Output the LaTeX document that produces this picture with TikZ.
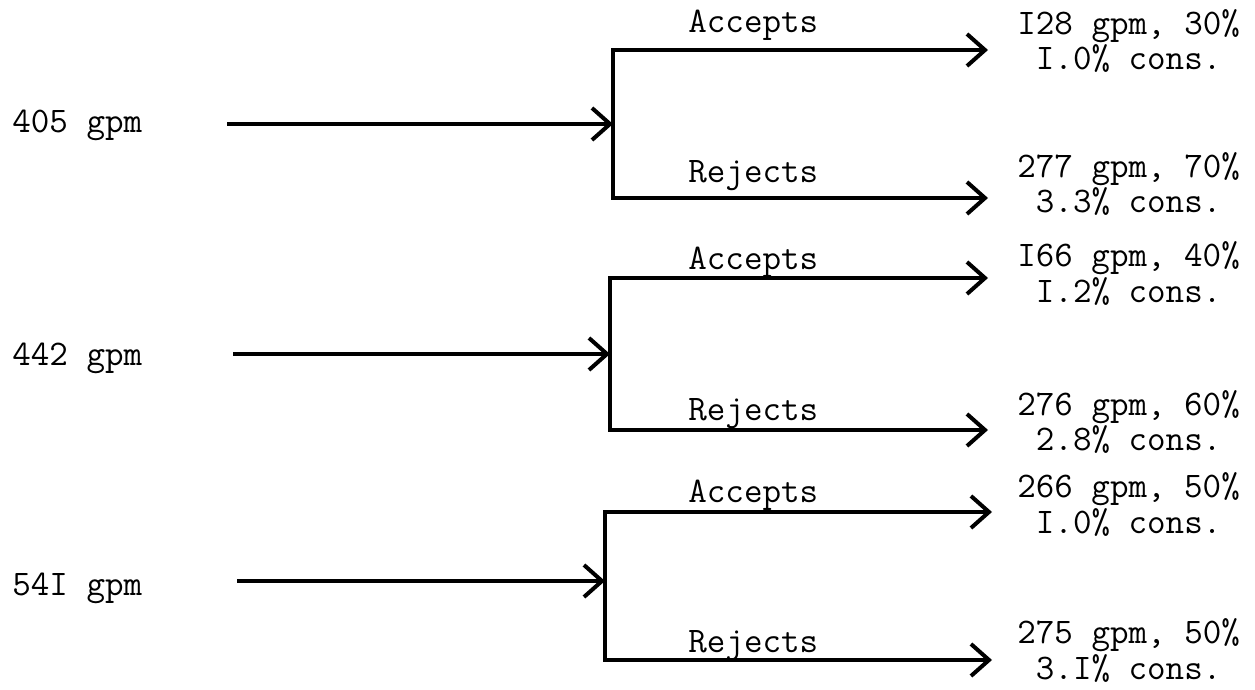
\documentclass[tikz,border=0pt]{standalone}
\usepackage{fontspec}
\usepackage{tikz}
\usetikzlibrary{arrows.meta}

\begin{document}
\begin{tikzpicture}[x=0.5pt,y=-0.5pt]

	\tikzstyle{flow} = [line width=2pt,-{Straight Barb[length=9pt,width=16pt,line width=2pt]}]
	\tikzstyle{typed} = [font=\ttfamily\fontsize{18}{16}\selectfont,inner sep=0pt,anchor=base west,align=left]

	\useasboundingbox (0,0) rectangle (1255,690);

	% group / feed / feed x,y / bar x / top y / bottom y / tip x / baselines
	\foreach \n/\feed/\xin/\yin/\xb/\yt/\yb/\xt/\bin/\ba/\br in {
		1/405/227/124/613/50/198/988/133/33/183,
		2/442/233/354/610/278/430/988/365/270/420,
		3/54I/237/581/605/512/660/992/595/502/652} {
		\node[typed] (feed\n) at (12,\bin) {\feed\ gpm};
		\coordinate (in\n) at (\xin,\yin);
		\coordinate (j\n) at (\xb,\yin);
		\coordinate (acc\n) at (\xt,\yt);
		\coordinate (rej\n) at (\xt,\yb);
		\draw[flow] (in\n) -- (j\n);
		\draw[flow] (j\n) |- (acc\n);
		\draw[flow] (j\n) |- (rej\n);
		\node[typed] (la\n) at (688,\ba) {Accepts};
		\node[typed] (lr\n) at (688,\br) {Rejects};
	}

	% outlet streams (baseline of the second line)
	\foreach \n/\y/\rate/\cons in {
		a1/70/{I28 gpm, 30\%}/{I.0\% cons.},
		r1/213/{277 gpm, 70\%}/{3.3\% cons.},
		a2/302/{I66 gpm, 40\%}/{I.2\% cons.},
		r2/451/{276 gpm, 60\%}/{2.8\% cons.},
		a3/533/{266 gpm, 50\%}/{I.0\% cons.},
		r3/679/{275 gpm, 50\%}/{3.I\% cons.}}
		\node[typed] (out\n) at (1017,\y) {\rate\\\phantom{0}\cons};

\end{tikzpicture}
\end{document}
